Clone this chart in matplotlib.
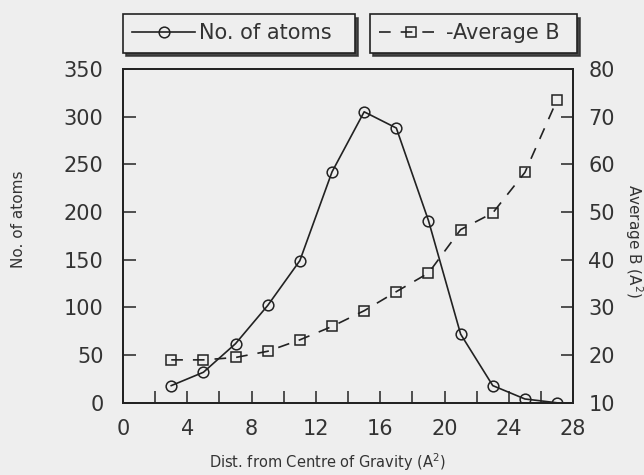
import matplotlib
matplotlib.use('Agg')
import matplotlib.pyplot as plt
from matplotlib.ticker import MultipleLocator

dist = [3, 5, 7, 9, 11, 13, 15, 17, 19, 21, 23, 25, 27]
n_atoms = [18, 32, 62, 102, 149, 242, 305, 288, 191, 72, 18, 4, 0]
avg_b = [19.0, 19.0, 19.5, 20.8, 23.2, 26.0, 29.3, 33.3, 37.2, 46.3, 49.8, 58.3, 73.5]

bg = '#eeeeee'
ink = '#222222'
txt = '#333333'
plt.rcParams['font.family'] = ['DejaVu Sans']

fig = plt.figure(figsize=(6.44, 4.75), dpi=100, facecolor=bg)
ax = fig.add_axes([0.191, 0.152, 0.699, 0.703], facecolor=bg)
ax2 = ax.twinx()

l1, = ax.plot(dist, n_atoms, color=ink, lw=1.2, marker='o', ms=7.7,
              mfc='none', mec=ink, mew=1.1, label='No. of atoms')
l2, = ax2.plot(dist, avg_b, color=ink, lw=1.2, marker='s', ms=7.5,
               mfc='none', mec=ink, mew=1.1, dashes=(7, 6),
               label='-Average B')

ax.set_xlim(0, 28)
ax.set_ylim(0, 350)
ax2.set_ylim(10, 80)
ax.xaxis.set_major_locator(MultipleLocator(4))
ax.xaxis.set_minor_locator(MultipleLocator(2))
ax.yaxis.set_major_locator(MultipleLocator(50))
ax2.yaxis.set_major_locator(MultipleLocator(10))

for a in (ax, ax2):
    for s in a.spines.values():
        s.set_linewidth(1.3)
        s.set_color(ink)
ax.tick_params(axis='both', which='both', direction='in', length=9, width=1.2,
               labelsize=15, colors=txt, top=False)
ax.tick_params(axis='x', which='both', pad=12)
ax.tick_params(axis='y', pad=14)
ax2.tick_params(axis='y', direction='in', length=9, width=1.2, labelsize=15,
                colors=txt, pad=11)

ax.set_xlabel('Dist. from Centre of Gravity (A$^2$)', fontsize=10.5, color=txt)
ax.xaxis.set_label_coords(0.455, -0.145)
ax.set_ylabel('No. of atoms', fontsize=11, color=txt)
ax.yaxis.set_label_coords(-0.215, 0.55)
ax2.set_ylabel('Average B (A$^2$)', fontsize=11, color=txt, rotation=270)
ax2.yaxis.set_label_coords(1.16, 0.485)

boxes = [(l1, 0.191, 0.360), (l2, 0.5745, 0.321)]
for h, x0, w in boxes:
    leg = fig.legend(handles=[h], loc='center', bbox_to_anchor=(x0, 0.88, w, 0.099),
                     mode='expand', borderaxespad=0, fontsize=15, frameon=True,
                     fancybox=False, labelcolor=txt,
                     shadow={'ox': 2.5, 'oy': -2.5, 'color': '#333333', 'alpha': 0.9},
                     handlelength=3.0, handletextpad=0.2, borderpad=0.45)
    leg.get_frame().set_edgecolor(ink)
    leg.get_frame().set_linewidth(1.2)
    leg.get_frame().set_facecolor(bg)

fig.savefig('out.png', dpi=100, facecolor=bg)
